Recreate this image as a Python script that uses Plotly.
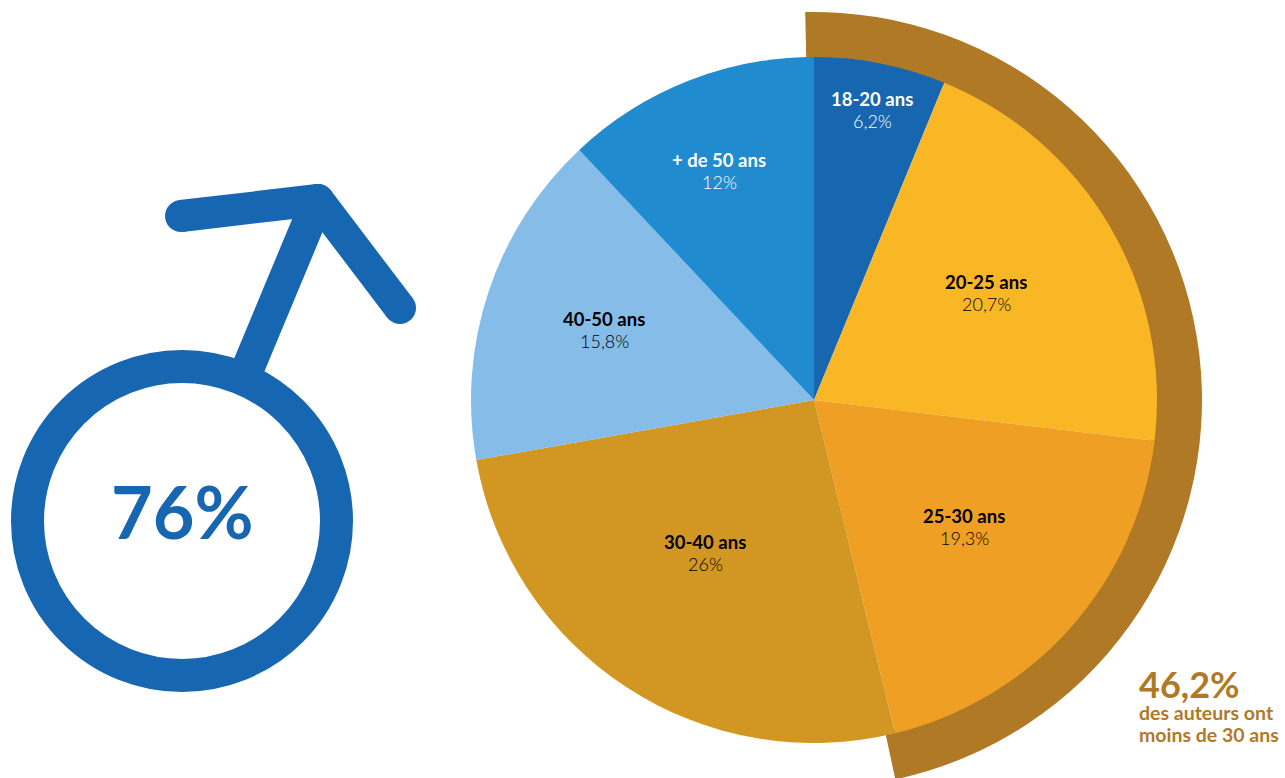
import plotly.graph_objects as go

# --- data -------------------------------------------------------------
age_groups = ["18-20 ans", "20-25 ans", "25-30 ans", "30-40 ans", "40-50 ans", "+ de 50 ans"]
age_values = [6.2, 20.7, 19.3, 26, 15.8, 12]
age_value_labels = ["6,2%", "20,7%", "19,3%", "26%", "15,8%", "12%"]
age_colors = ["#1666B0", "#FAB725", "#EF9F24", "#D29723", "#85BCE8", "#218BCF"]
age_text_colors = ["#FFFFFF", "#000000", "#000000", "#000000", "#000000", "#FFFFFF"]
value_text_colors = ["#FFFFFF", "#000000", "#000000", "#000000", "#000000", "#FFFFFF"]
label_x = [872, 986, 964, 705, 604, 719]
label_y = [99, 282, 516, 542, 319, 160]

ring_values = [47.0, 53.0]
ring_colors = ["#B07925", "rgba(0,0,0,0)"]

male_share = "76%"
young_share = "46,2%"
young_caption = ["des auteurs ont", "moins de 30 ans"]

icon_stem_x = [248, 318]
icon_stem_y = [368, 200]
icon_head_x = [181, 318, None, 318, 400]
icon_head_y = [216, 200, None, 200, 308]
BLUE = "#1766B1"
BROWN = "#B07925"

W, H = 1285, 800
CX, CY = 814, 400
R_IN, R_OUT = 343, 388


def dom(r):
    return dict(x=[(CX - r) / W, (CX + r) / W], y=[1 - (CY + r) / H, 1 - (CY - r) / H])


fig = go.Figure()
fig.add_trace(go.Pie(values=ring_values, sort=False, direction="clockwise", rotation=-1.3,
                     hole=0.875, domain=dom(R_OUT), textinfo="none", hoverinfo="skip",
                     marker=dict(colors=ring_colors, line=dict(width=0)), showlegend=False))
fig.add_trace(go.Pie(labels=age_groups, values=age_values, sort=False, direction="clockwise",
                     rotation=0, domain=dom(R_IN), textinfo="none",
                     marker=dict(colors=age_colors, line=dict(width=0)), showlegend=False))

fig.add_trace(go.Scatter(x=icon_stem_x, y=icon_stem_y, mode="lines", hoverinfo="skip",
                         line=dict(color=BLUE, width=33), showlegend=False))
fig.add_trace(go.Scatter(x=icon_head_x, y=icon_head_y, mode="lines+markers", hoverinfo="skip",
                         connectgaps=False,
                         line=dict(color=BLUE, width=32),
                         marker=dict(color=BLUE, size=32), showlegend=False))
fig.add_shape(type="circle", x0=27.5, x1=336.5, y0=366.5, y1=675.5, xref="x", yref="y",
              line=dict(color=BLUE, width=33), fillcolor="rgba(0,0,0,0)")

SANS = "Lato"
anns = []
for g, v, x, y, c, vc in zip(age_groups, age_value_labels, label_x, label_y, age_text_colors, value_text_colors):
    anns.append(dict(x=x, y=y, text=f"<b>{g}</b>", font=dict(family=SANS, size=18.5, color=c)))
    anns.append(dict(x=x, y=y + 22, text=v, font=dict(family=SANS, size=18, color=vc, weight=300)))
anns.append(dict(x=182, y=511, text=f"<b>{male_share}</b>", font=dict(family=SANS, size=72, color=BLUE)))
anns.append(dict(x=1137, y=704, xanchor="left", align="left",
                 text=(f"<b><span style='font-size:36px'>{young_share}</span><br>"
                       f"<span style='font-size:19.5px'>{young_caption[0]}</span><br>"
                       f"<span style='font-size:19.5px'>{young_caption[1]}</span></b>"),
                 font=dict(family=SANS, size=17, color=BROWN)))
for a in anns:
    a.update(xref="x", yref="y", showarrow=False, yanchor="middle")
    a.setdefault("xanchor", "center")

fig.update_layout(width=W, height=H, margin=dict(l=0, r=0, t=0, b=0),
                  paper_bgcolor="white", plot_bgcolor="white", annotations=anns,
                  xaxis=dict(range=[0, W], visible=False, fixedrange=True),
                  yaxis=dict(range=[H, 0], visible=False, fixedrange=True))

fig.write_html("out.html", config=dict(displayModeBar=False),
               post_script="document.body.style.margin='0';document.documentElement.style.overflow='hidden';")
